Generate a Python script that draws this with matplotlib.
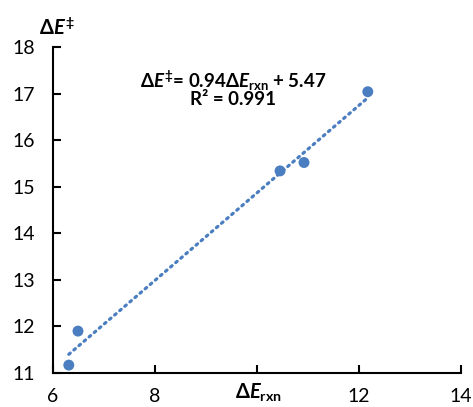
import matplotlib
matplotlib.use("Agg")
import matplotlib.pyplot as plt
import numpy as np

plt.rcParams['font.family'] = ['Lato', 'DejaVu Sans']
plt.rcParams['mathtext.fontset'] = 'custom'
plt.rcParams['mathtext.rm'] = 'Lato:bold'
plt.rcParams['mathtext.it'] = 'Lato:italic:bold'
plt.rcParams['mathtext.bf'] = 'Lato:bold'

x_vals = [6.31, 6.49, 10.45, 10.92, 12.17]
y_vals = [11.17, 11.90, 15.34, 15.52, 17.04]
slope = 0.94
intercept = 5.47
r2_text = "R² = 0.991"
x_ticks = [6, 8, 12, 14]
y_ticks = [11, 12, 13, 14, 15, 16, 17, 18]

color = '#4A7EC0'

fig = plt.figure(figsize=(4.73, 4.07), dpi=100)
ax = fig.add_axes([0.112, 0.0835, 0.863, 0.801])

xs = np.array([min(x_vals), max(x_vals)])
ax.plot(xs, slope * xs + intercept, linestyle=(0, (0.6, 1.5)), lw=2.3,
        color=color, dash_capstyle='round', zorder=2)
ax.scatter(x_vals, y_vals, s=62, color=color, zorder=3, edgecolors='none')

ax.set_xlim(6, 14)
ax.set_ylim(11, 18)
ax.set_xticks([6, 8, 10, 12, 14])
ax.set_xticklabels(['6', '8', '', '12', '14'])
ax.set_yticks(y_ticks)
ax.set_yticklabels([str(v) for v in y_ticks])

for s in ['top', 'right']:
    ax.spines[s].set_visible(False)
for s in ['left', 'bottom']:
    ax.spines[s].set_linewidth(1.5)
ax.tick_params(direction='in', length=6, width=1.5, labelsize=14)
ax.tick_params(axis='y', pad=13)
ax.tick_params(axis='x', pad=11)

ax.text(9.53, 17.28, r'$\Delta E^{‡}$= 0.94$\Delta E_{\mathrm{rxn}}$ + 5.47',
        ha='center', va='center', fontsize=13.5, fontweight='bold')
ax.text(9.53, 16.87, r2_text, ha='center', va='center', fontsize=13.5,
        fontweight='bold')

fig.text(57 / 473, 1 - 28 / 407, r'$\Delta E^{‡}$', ha='center', va='center',
         fontsize=14.5, fontweight='bold')
fig.text(258 / 473, 1 - 393 / 407, r'$\Delta E_{\mathrm{rxn}}$', ha='center',
         va='center', fontsize=14.5, fontweight='bold')

fig.savefig('out.png', dpi=100)
